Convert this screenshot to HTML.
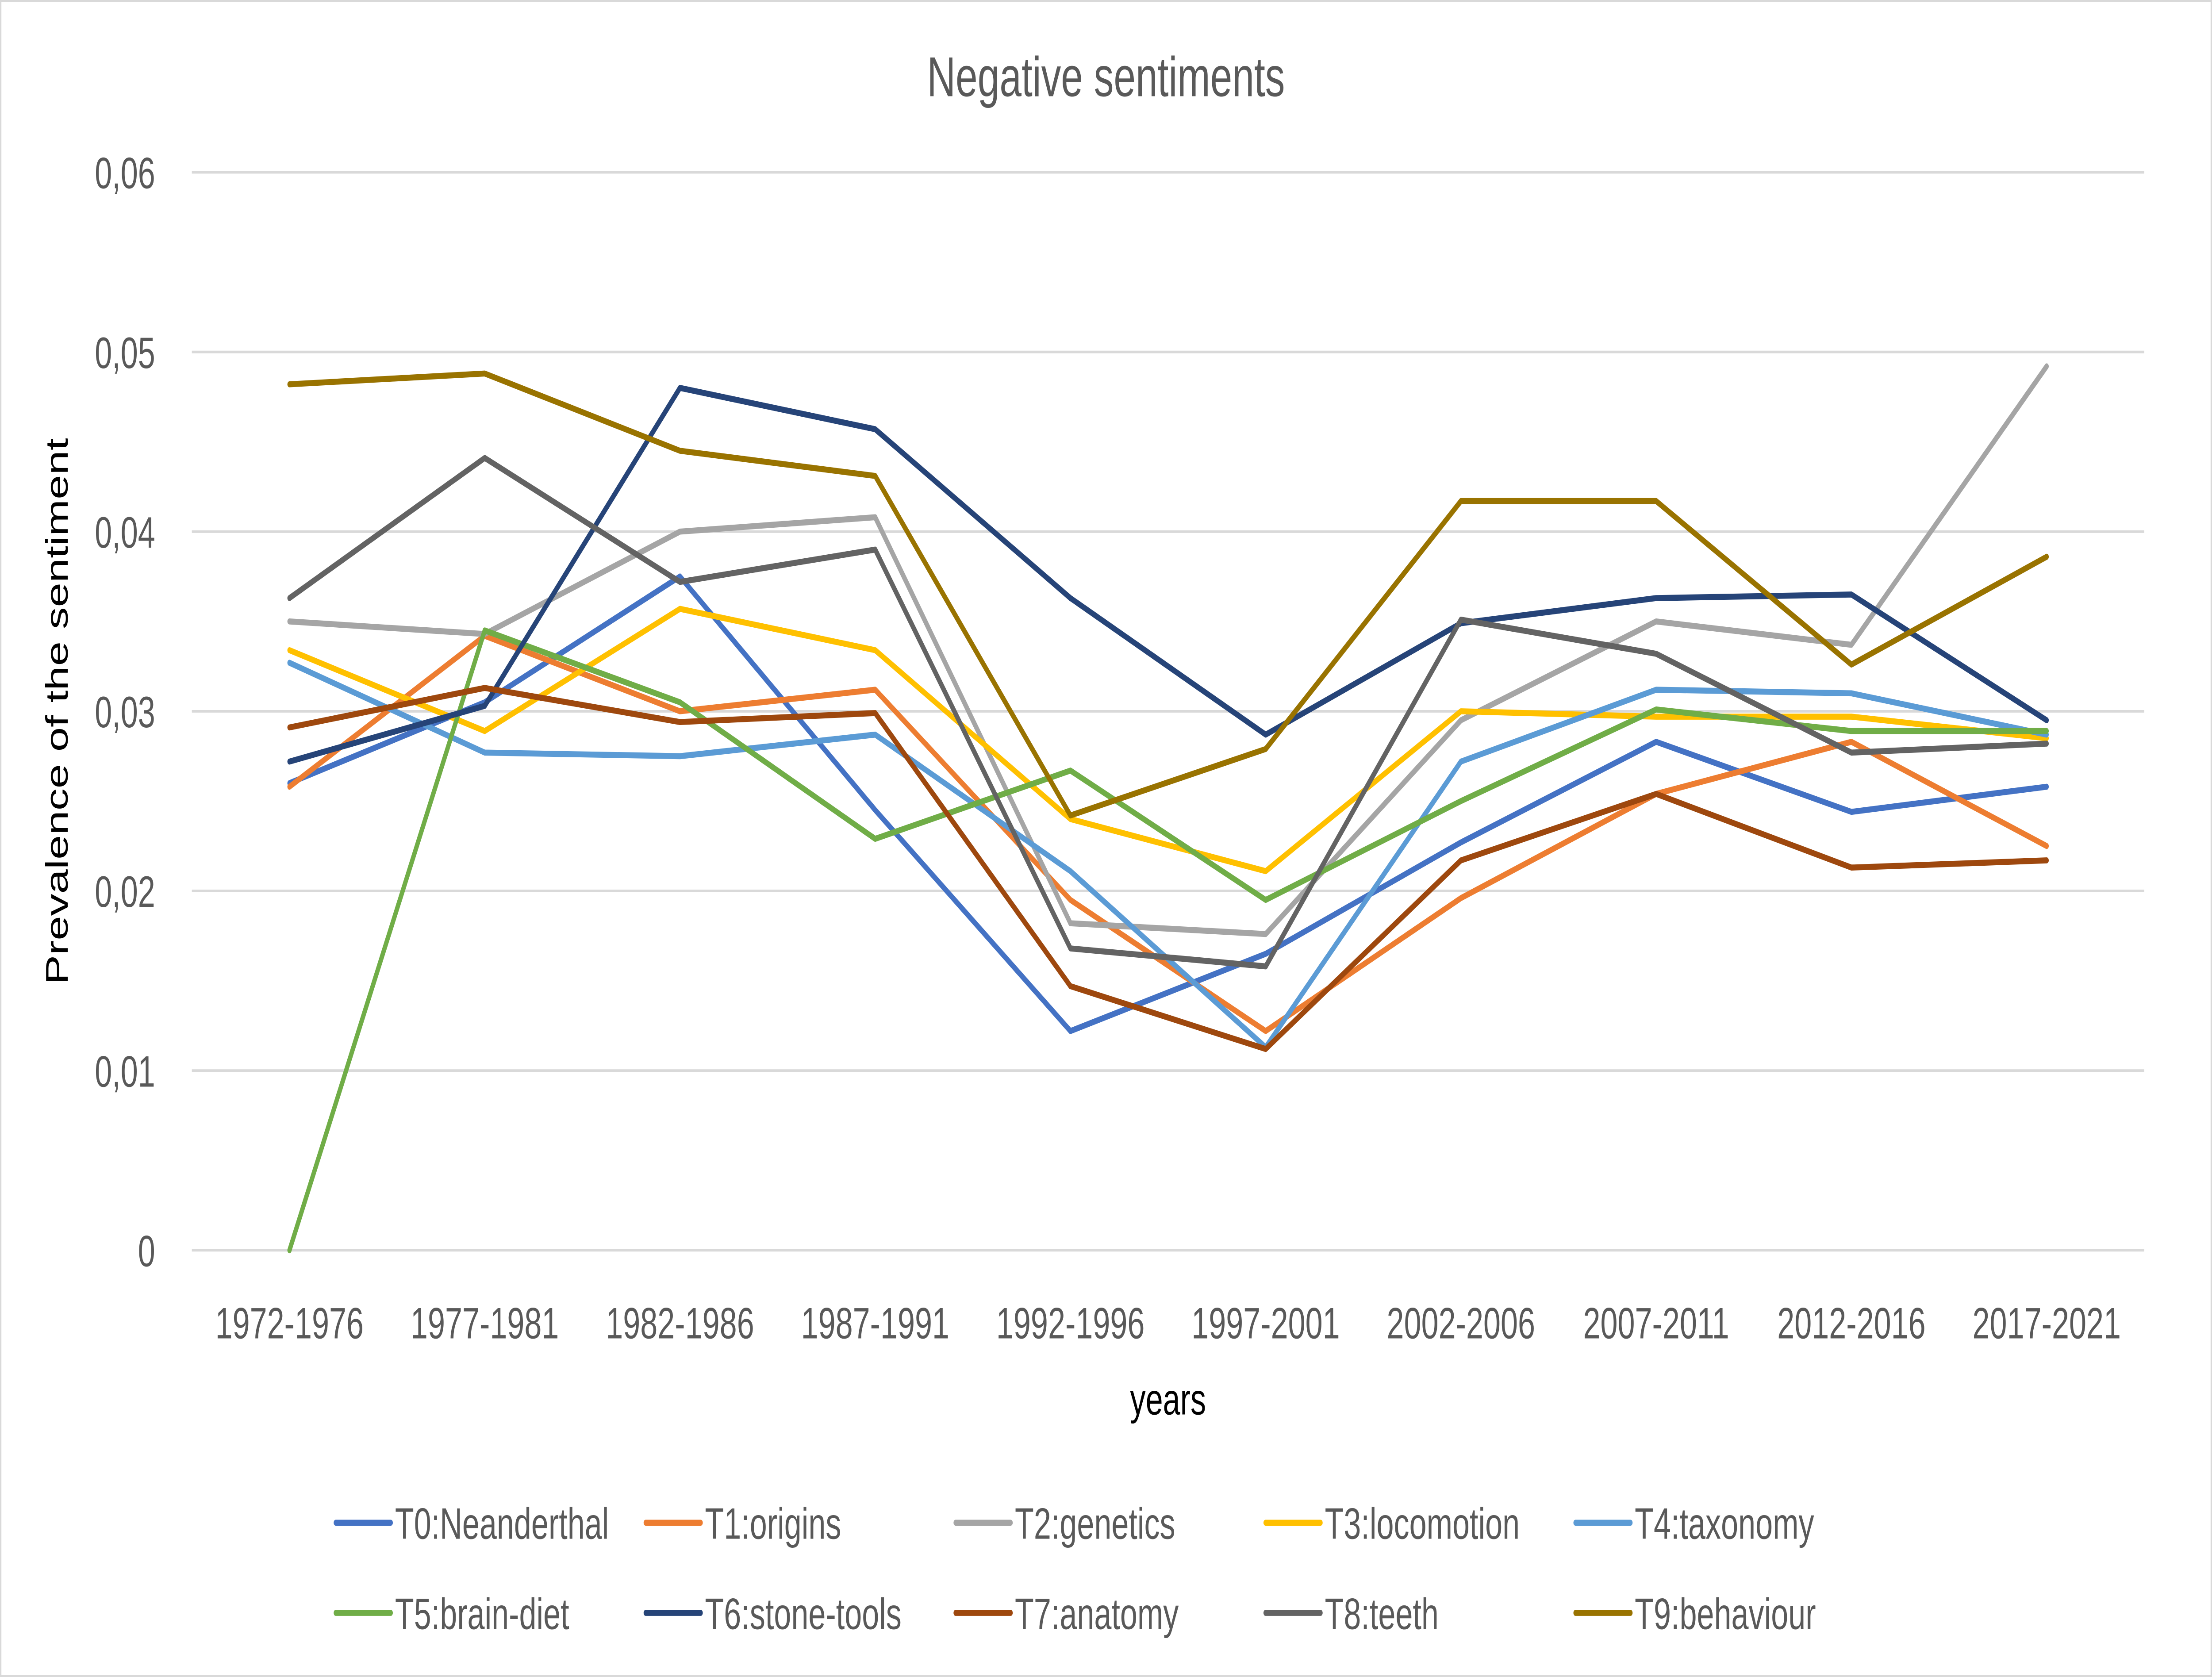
<!DOCTYPE html>
<html><head><meta charset="utf-8"><style>
html,body{margin:0;padding:0;background:#fff;width:100%;height:100%;overflow:hidden;}
svg{display:block;width:100vw;height:100vh;font-family:"Liberation Sans",sans-serif;}
</style></head><body>
<svg id="chart" viewBox="0 0 1568 837" preserveAspectRatio="none" xmlns="http://www.w3.org/2000/svg">
<rect x="0.5" y="0.5" width="1567" height="836" fill="#fff" stroke="#d9d9d9"/>
<text x="784" y="48" text-anchor="middle" font-size="28" fill="#595959">Negative sentiments</text>
<g id="grid"></g><g id="ylab"></g><g id="xlab"></g><g id="series"></g><g id="legend"></g>
<text x="828" y="706" text-anchor="middle" font-size="22" fill="#000">years</text>
<text transform="translate(48,355) rotate(-90)" text-anchor="middle" font-size="22" fill="#000">Prevalence of the sentiment</text>
</svg>
<script>
const categories=["1972-1976","1977-1981","1982-1986","1987-1991","1992-1996","1997-2001","2002-2006","2007-2011","2012-2016","2017-2021"];
const yTicks=[0,0.01,0.02,0.03,0.04,0.05,0.06];
const seriesNames=["T0:Neanderthal","T1:origins","T2:genetics","T3:locomotion","T4:taxonomy","T5:brain-diet","T6:stone-tools","T7:anatomy","T8:teeth","T9:behaviour"];
const seriesColors=["#4472C4","#ED7D31","#A5A5A5","#FFC000","#5B9BD5","#70AD47","#264478","#9E480E","#636363","#997300"];
const t0=[0.0260,0.0305,0.0375,0.0245,0.0122,0.0165,0.0227,0.0283,0.0244,0.0258];
const t1=[0.0258,0.0342,0.0300,0.0312,0.0195,0.0122,0.0196,0.0254,0.0283,0.0225];
const t2=[0.0350,0.0343,0.0400,0.0408,0.0182,0.0176,0.0295,0.0350,0.0337,0.0492];
const t3=[0.0334,0.0289,0.0357,0.0334,0.0240,0.0211,0.0300,0.0297,0.0297,0.0285];
const t4=[0.0327,0.0277,0.0275,0.0287,0.0211,0.0113,0.0272,0.0312,0.0310,0.0287];
const t5=[0,0.0345,0.0305,0.0229,0.0267,0.0195,0.0250,0.0301,0.0289,0.0289];
const t6=[0.0272,0.0303,0.0480,0.0457,0.0363,0.0287,0.0349,0.0363,0.0365,0.0295];
const t7=[0.0291,0.0313,0.0294,0.0299,0.0147,0.0112,0.0217,0.0254,0.0213,0.0217];
const t8=[0.0363,0.0441,0.0372,0.0390,0.0168,0.0158,0.0351,0.0332,0.0277,0.0282];
const t9=[0.0482,0.0488,0.0445,0.0431,0.0242,0.0279,0.0417,0.0417,0.0326,0.0386];
const allSeries=[t0,t1,t2,t3,t4,t5,t6,t7,t8,t9];

const NS="http://www.w3.org/2000/svg";
const plotTop=86,plotBot=624,yMax=0.06;
const step=(1520-136)/categories.length;
function xs(i){return 136+step*(i+0.5);}
function ys(v){return plotBot-(v/yMax)*(plotBot-plotTop);}
function mk(tag,attrs,parent){const e=document.createElementNS(NS,tag);for(const k in attrs)e.setAttribute(k,attrs[k]);parent.appendChild(e);return e;}
const grid=document.getElementById('grid'),ylab=document.getElementById('ylab'),xlab=document.getElementById('xlab'),ser=document.getElementById('series'),leg=document.getElementById('legend');
yTicks.forEach(v=>{
  const l=mk('line',{x1:136,x2:1520,y1:ys(v),y2:ys(v),stroke:'#d9d9d9','stroke-width':1.3},grid);
  
  
  const t=mk('text',{x:110,y:ys(v)+8,'text-anchor':'end','font-size':22,fill:'#595959'},ylab);
  t.textContent=v===0?'0':v.toFixed(2).replace('.',',');
  
  
});
categories.forEach((c,i)=>{
  const t=mk('text',{x:xs(i),y:668,'text-anchor':'middle','font-size':22,fill:'#595959'},xlab);
  t.textContent=c;
  
  
});
allSeries.forEach((d,s)=>{
  const p=mk('polyline',{points:d.map((v,i)=>xs(i)+','+ys(v)).join(' '),fill:'none',stroke:seriesColors[s],'stroke-width':3,'stroke-linejoin':'round','stroke-linecap':'round'},ser);
  
  
});
seriesNames.forEach((n,s)=>{
  const col=s%5,row=Math.floor(s/5);
  const x=238+col*219.7,y=760+row*45;
  const g=mk('g',{},leg);
  
  
  mk('line',{x1:x,x2:x+39,y1:y,y2:y,stroke:seriesColors[s],'stroke-width':3,'stroke-linecap':'round'},g);
  const t=mk('text',{x:x+42,y:y+8,'font-size':22,fill:'#595959'},g);
  t.textContent=n;
});
</script>
</body></html>
